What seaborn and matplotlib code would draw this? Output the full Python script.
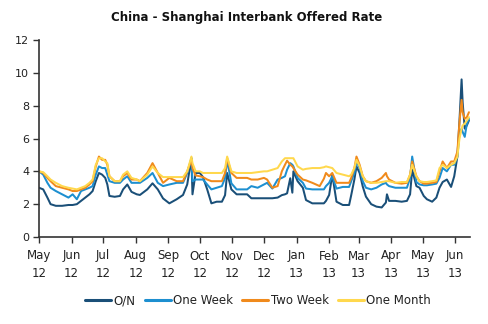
import pandas as pd
import numpy as np
import matplotlib
matplotlib.use("Agg")
import matplotlib.pyplot as plt
import matplotlib.dates as mdates
import seaborn as sns

dates = [
    "2012-05-01", "2012-05-05", "2012-05-09", "2012-05-12", "2012-05-17", "2012-05-23", "2012-05-29",
    "2012-06-02", "2012-06-06", "2012-06-10", "2012-06-14", "2012-06-18", "2012-06-21", "2012-06-24",
    "2012-06-27", "2012-06-30", "2012-07-03", "2012-07-05", "2012-07-07", "2012-07-12", "2012-07-17",
    "2012-07-20", "2012-07-24", "2012-07-28", "2012-08-02", "2012-08-05", "2012-08-12", "2012-08-17",
    "2012-08-22", "2012-08-27", "2012-09-02", "2012-09-09", "2012-09-15", "2012-09-19", "2012-09-23",
    "2012-09-24", "2012-09-27", "2012-10-01", "2012-10-04", "2012-10-08", "2012-10-12", "2012-10-17",
    "2012-10-22", "2012-10-25", "2012-10-27", "2012-10-31", "2012-11-05", "2012-11-10", "2012-11-15",
    "2012-11-19", "2012-11-25", "2012-12-01", "2012-12-04", "2012-12-09", "2012-12-14", "2012-12-18",
    "2012-12-21", "2012-12-23", "2012-12-26", "2012-12-28", "2012-12-29", "2013-01-02", "2013-01-07",
    "2013-01-10", "2013-01-16", "2013-01-23", "2013-01-27", "2013-01-29", "2013-02-01", "2013-02-04",
    "2013-02-08", "2013-02-14", "2013-02-20", "2013-02-22", "2013-02-25", "2013-02-27", "2013-03-02",
    "2013-03-05", "2013-03-08", "2013-03-13", "2013-03-18", "2013-03-23", "2013-03-27", "2013-03-28",
    "2013-03-30", "2013-04-05", "2013-04-11", "2013-04-16", "2013-04-19", "2013-04-21", "2013-04-25",
    "2013-04-28", "2013-05-02", "2013-05-05", "2013-05-10", "2013-05-14", "2013-05-17", "2013-05-20",
    "2013-05-24", "2013-05-28", "2013-05-31", "2013-06-03", "2013-06-05", "2013-06-07", "2013-06-08",
    "2013-06-10", "2013-06-12", "2013-06-14",
]

overnight = [
    3.0, 2.9, 2.4, 2.0, 1.9, 1.9, 1.95,
    1.95, 2.0, 2.2, 2.4, 2.6, 2.8, 3.4,
    3.9, 3.8, 3.6, 3.2, 2.5, 2.45, 2.5,
    2.9, 3.2, 2.75, 2.6, 2.56, 2.9, 3.27,
    2.9, 2.35, 2.05, 2.3, 2.56, 3.2, 4.8,
    2.6, 3.9, 3.9, 3.65, 2.9, 2.05, 2.15,
    2.15, 2.55, 3.9, 2.9, 2.6, 2.6, 2.6,
    2.36, 2.36, 2.36, 2.36, 2.36, 2.4, 2.55,
    2.6, 2.66, 3.58, 2.7, 4.0, 3.4, 3.0,
    2.25, 2.05, 2.05, 2.05, 2.2, 2.56, 3.8,
    2.15, 1.95, 1.95, 2.55, 3.5, 4.3, 3.9,
    3.07, 2.46, 2.0, 1.85, 1.8, 2.1, 2.6,
    2.2, 2.2, 2.15, 2.2, 2.6, 4.1, 3.1,
    3.0, 2.5, 2.3, 2.15, 2.4, 3.0, 3.35,
    3.5, 3.05, 3.7, 4.9, 7.1, 9.6, 8.2,
    6.6, 6.8, 7.1,
]

one_week = [
    4.0, 3.8, 3.3, 3.0, 2.8, 2.6, 2.4,
    2.6, 2.3, 2.8, 2.9, 3.0, 3.1, 3.8,
    4.3, 4.2, 4.2, 3.8, 3.4, 3.3, 3.3,
    3.5, 3.7, 3.3, 3.3, 3.3, 3.6, 3.9,
    3.3, 3.1, 3.2, 3.3, 3.3, 3.9, 4.8,
    3.4, 3.5, 3.5, 3.5, 3.2, 2.9, 3.0,
    3.1, 3.6, 4.7, 3.27, 2.9, 2.9, 2.9,
    3.1, 3.0, 3.2, 3.3, 2.95, 3.5, 3.6,
    3.7, 4.1, 4.5, 4.4, 4.3, 3.6, 3.3,
    2.95, 2.9, 2.9, 2.9, 3.1, 3.3, 3.7,
    2.95, 3.05, 3.05, 3.4, 3.9, 4.6, 4.2,
    3.4, 3.0, 2.9, 3.0, 3.2, 3.3, 3.2,
    3.1, 3.0, 3.0, 3.0, 3.6, 4.9, 3.35,
    3.2, 3.15, 3.15, 3.2, 3.25, 3.6, 4.2,
    4.0, 4.4, 4.4, 4.9, 6.3, 6.6, 6.4,
    6.1, 6.9, 7.2,
]

two_week = [
    4.0, 3.9, 3.6, 3.4, 3.1, 3.0, 2.9,
    2.8, 2.8, 2.9, 3.0, 3.2, 3.4, 4.3,
    4.9, 4.7, 4.7, 4.4, 3.7, 3.4, 3.4,
    3.7, 3.9, 3.5, 3.5, 3.4, 3.9, 4.5,
    3.9, 3.3, 3.6, 3.4, 3.4, 4.0, 4.7,
    4.2, 3.75, 3.7, 3.65, 3.5, 3.4, 3.4,
    3.4, 3.9, 4.8, 3.9, 3.6, 3.6, 3.6,
    3.5, 3.5, 3.6, 3.5, 3.0, 3.1, 4.0,
    4.4, 4.65, 4.4, 4.3, 4.2, 3.8, 3.5,
    3.45, 3.3, 3.1, 3.55, 3.9, 3.7, 3.9,
    3.3, 3.3, 3.3, 3.6, 4.2, 4.9, 4.4,
    3.7, 3.4, 3.3, 3.4, 3.6, 3.9, 3.7,
    3.5, 3.3, 3.25, 3.3, 3.8, 4.6, 3.7,
    3.4, 3.25, 3.25, 3.3, 3.35, 4.0, 4.6,
    4.2, 4.6, 4.6, 5.2, 7.0, 8.35, 7.6,
    7.2, 7.3, 7.6,
]

one_month = [
    4.0, 3.95, 3.7, 3.5, 3.3, 3.1, 3.0,
    2.95, 2.9, 3.0, 3.1, 3.3, 3.5, 4.4,
    4.8, 4.8, 4.6, 4.5, 3.7, 3.4, 3.4,
    3.8, 4.0, 3.6, 3.5, 3.4, 3.8, 4.3,
    3.9, 3.65, 3.65, 3.65, 3.65, 4.0, 4.9,
    4.5, 4.0, 4.0, 3.9, 3.9, 3.9, 3.9,
    3.9, 4.2, 4.9, 4.0, 3.9, 3.9, 3.9,
    3.9, 3.95, 4.0, 4.0, 4.1, 4.2, 4.6,
    4.8, 4.8, 4.8, 4.8, 4.8, 4.3, 4.1,
    4.15, 4.2, 4.2, 4.25, 4.3, 4.25, 4.2,
    3.9, 3.8, 3.7, 3.8, 4.2, 4.7, 4.3,
    3.7, 3.4, 3.3, 3.3, 3.35, 3.4, 3.4,
    3.4, 3.3, 3.35, 3.35, 3.8, 4.4, 3.7,
    3.4, 3.35, 3.35, 3.4, 3.45, 4.2, 4.4,
    4.2, 4.4, 4.5, 4.9, 6.0, 6.6, 6.8,
    6.9, 7.1, 7.3,
]

series_names = ["O/N", "One Week", "Two Week", "One Month"]
series_colors = ["#1a4f78", "#1d8fd0", "#f08a1c", "#ffd84d"]
month_ticks = ["2012-05-01", "2012-06-01", "2012-07-01", "2012-08-01", "2012-09-01", "2012-10-01",
               "2012-11-01", "2012-12-01", "2013-01-01", "2013-02-01", "2013-03-01", "2013-04-01",
               "2013-05-01", "2013-06-01"]
month_labels = ["May\n12", "Jun\n12", "Jul\n12", "Aug\n12", "Sep\n12", "Oct\n12", "Nov\n12",
                "Dec\n12", "Jan\n13", "Feb\n13", "Mar\n13", "Apr\n13", "May\n13", "Jun\n13"]
y_ticks = [0, 2, 4, 6, 8, 10, 12]

frames = []
for name, vals in zip(series_names, [overnight, one_week, two_week, one_month]):
    frames.append(pd.DataFrame({"date": pd.to_datetime(dates), "rate": vals, "series": name}))
df = pd.concat(frames, ignore_index=True)

sns.set_theme(style="white")
plt.rcParams["font.family"] = ["DejaVu Sans"]

fig = plt.figure(figsize=(4.88, 3.24), dpi=100)
ax = fig.add_axes([39 / 488, 1 - 237 / 324, (470 - 39) / 488, (237 - 40) / 324])

sns.lineplot(data=df, x="date", y="rate", hue="series", hue_order=series_names,
             palette=series_colors, linewidth=1.45, ax=ax, legend=True)

ax.set_xlim(pd.Timestamp("2012-05-01"), pd.Timestamp("2013-06-15"))
ax.set_ylim(0, 12)
ax.set_yticks(y_ticks)
ax.set_yticklabels([str(v) for v in y_ticks], fontsize=8, color="#222222")
ax.set_xticks(pd.to_datetime(month_ticks))
ax.set_xticklabels(month_labels, fontsize=8.5, color="#222222", linespacing=1.45)
ax.set_xlabel("")
ax.set_ylabel("")
ax.tick_params(axis="x", direction="out", length=4, width=1, color="#333333", bottom=True, pad=5)
ax.tick_params(axis="y", direction="out", length=4, width=1, color="#333333", left=True, pad=3)
for s in ["top", "right"]:
    ax.spines[s].set_visible(False)
for s in ["left", "bottom"]:
    ax.spines[s].set_color("#333333")
    ax.spines[s].set_linewidth(1.2)
ax.grid(False)

handles, labels = ax.get_legend_handles_labels()
ax.get_legend().remove()
fig.legend(handles, labels, loc="center", bbox_to_anchor=(258 / 488, 1 - 301 / 324), ncol=4,
           frameon=False, fontsize=8.5, handlelength=2.2, handletextpad=0.2, columnspacing=0.8,
           labelcolor="#222222")
for lh in fig.legends[0].get_lines():
    lh.set_linewidth(2.2)

fig.text(0.505, 1 - 17 / 324, "China - Shanghai Interbank Offered Rate", ha="center", va="center",
         fontsize=8.5, fontweight="bold", color="#111111")

fig.savefig("out.png", dpi=100)
